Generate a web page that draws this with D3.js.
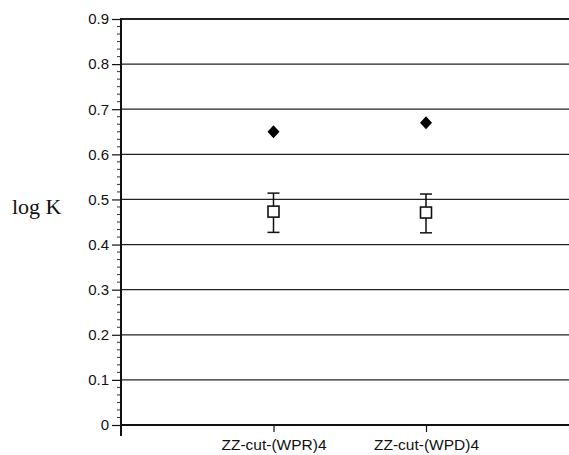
<!DOCTYPE html>
<html>
<head>
<meta charset="utf-8">
<script src="https://cdn.jsdelivr.net/npm/d3@7"></script>
<style>
  body { margin: 0; background: #fff; }
  svg { display: block; }
</style>
</head>
<body>
<svg id="chart" width="569" height="455"></svg>
<script>
const categories = ['ZZ-cut-(WPR)4', 'ZZ-cut-(WPD)4'];
const diamondValues = [0.65, 0.67];
const squareValues = [0.473, 0.471];
const errLow = [0.427, 0.426];
const errHigh = [0.514, 0.512];
const yTicks = [0, 0.1, 0.2, 0.3, 0.4, 0.5, 0.6, 0.7, 0.8, 0.9];

const svg = d3.select('#chart');

// x positions: categories sit at 1 and 2 on a 0..3 axis
const x = d3.scaleLinear().domain([0, 3]).range([121, 578.5]);
const y = d3.scaleLinear().domain([0, 0.9]).range([425, 19]);

// gridlines
svg.append('g')
  .selectAll('line')
  .data(yTicks.filter(d => d > 0))
  .enter()
  .append('line')
  .attr('x1', x(0))
  .attr('x2', 569)
  .attr('y1', d => y(d))
  .attr('y2', d => y(d))
  .attr('stroke', '#222')
  .attr('stroke-width', d => d === 0.9 ? 1.8 : 1.2);

// minor ticks
const minor = d3.range(0, 54).map(i => i / 60).filter((d, i) => i % 6 !== 0);
svg.append('g')
  .selectAll('line')
  .data(minor)
  .enter()
  .append('line')
  .attr('x1', x(0) - 4)
  .attr('x2', x(0))
  .attr('y1', d => y(d))
  .attr('y2', d => y(d))
  .attr('stroke', '#333')
  .attr('stroke-width', 1);

// y axis
const yAxis = svg.append('g')
  .attr('transform', `translate(${x(0)},0)`)
  .call(d3.axisLeft(y).tickValues(yTicks).tickSize(9).tickPadding(3)
    .tickFormat(d => d === 0 ? '0' : d3.format('.1f')(d)));
yAxis.select('.domain').remove();
yAxis.selectAll('.tick line').attr('stroke', '#111').attr('stroke-width', 1.2);
yAxis.selectAll('text')
  .attr('font-family', 'Liberation Sans, Arial, sans-serif')
  .attr('font-size', 15)
  .attr('fill', '#111');

svg.append('line')
  .attr('x1', x(0)).attr('x2', x(0))
  .attr('y1', y(0.9) - 1).attr('y2', y(0) + 11)
  .attr('stroke', '#111').attr('stroke-width', 2);

// x axis
const xAxis = svg.append('g')
  .attr('transform', `translate(0,${y(0)})`)
  .call(d3.axisBottom(x).tickValues([1, 2]).tickSize(7).tickPadding(7)
    .tickFormat(d => categories[d - 1]));
xAxis.select('.domain').remove();
xAxis.selectAll('.tick line').attr('stroke', '#111').attr('stroke-width', 1.2);
xAxis.selectAll('text')
  .attr('font-family', 'Liberation Sans, Arial, sans-serif')
  .attr('font-size', 15.5)
  .attr('fill', '#111');

svg.append('line')
  .attr('x1', x(0)).attr('x2', 569)
  .attr('y1', y(0)).attr('y2', y(0))
  .attr('stroke', '#111').attr('stroke-width', 2);

// error bars
const eb = svg.append('g');
categories.forEach((c, i) => {
  const cx = x(i + 1);
  eb.append('line').attr('x1', cx).attr('x2', cx)
    .attr('y1', y(errHigh[i])).attr('y2', y(errLow[i]))
    .attr('stroke', '#111').attr('stroke-width', 1.5);
  [errHigh[i], errLow[i]].forEach(v => {
    eb.append('line').attr('x1', cx - 6).attr('x2', cx + 6)
      .attr('y1', y(v)).attr('y2', y(v))
      .attr('stroke', '#111').attr('stroke-width', 1.5);
  });
});

// squares
svg.append('g')
  .selectAll('rect')
  .data(squareValues)
  .enter()
  .append('rect')
  .attr('x', (d, i) => x(i + 1) - 5.5)
  .attr('y', d => y(d) - 5.5)
  .attr('width', 11)
  .attr('height', 11)
  .attr('fill', '#fff')
  .attr('stroke', '#111')
  .attr('stroke-width', 1.6);

// diamonds
svg.append('g')
  .selectAll('path')
  .data(diamondValues)
  .enter()
  .append('path')
  .attr('transform', (d, i) => `translate(${x(i + 1)},${y(d)})`)
  .attr('d', 'M0,-6.5L6,0L0,6.5L-6,0Z')
  .attr('fill', '#000');

// y label
svg.append('text')
  .attr('x', 12)
  .attr('y', 214)
  .attr('font-family', 'Liberation Serif, Times New Roman, serif')
  .attr('font-size', 22)
  .attr('fill', '#111')
  .text('log K');
</script>
</body>
</html>
